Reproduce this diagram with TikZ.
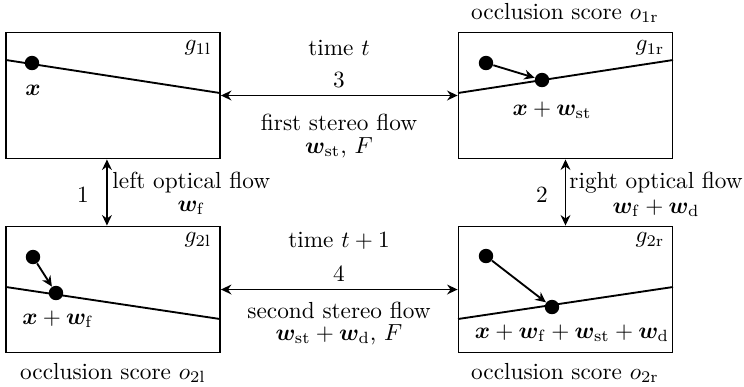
\documentclass[tikz,border=0pt]{standalone}
\usepackage{amsmath,bm}
\usetikzlibrary{arrows.meta}
\begin{document}
\begin{tikzpicture}[x=0.43pt,y=-0.43pt,
  frame/.style={draw, thick, minimum width=92pt, minimum height=54.2pt, inner sep=0pt},
  dot/.style={circle, fill, inner sep=0pt, minimum size=6.2pt},
  conn/.style={thick, {Stealth[length=4.5pt,width=4.2pt]}-{Stealth[length=4.5pt,width=4.2pt]}},
  mv/.style={thick, -{Stealth[length=4.5pt,width=4.2pt]}},
  gline/.style={thick},
  lbl/.style={inner sep=0pt},
  bl/.style={inner sep=0pt, anchor=base}
]
\useasboundingbox (0,0) rectangle (744,386);

% frames
\node[frame] (b1l) at (113,95.5) {};
\node[frame] (b1r) at (565.5,95.5) {};
\node[frame] (b2l) at (113,289.5) {};
\node[frame] (b2r) at (565.5,289.5) {};

% epipolar lines
\draw[gline] (6,60) -- (220,93);
\draw[gline] (458,93) -- (673,60);
\draw[gline] (6,287) -- (220,319);
\draw[gline] (458,319) -- (673,287);

% dots
\node[dot] (p1l) at (32,63) {};
\node[dot] (s1r) at (486,63) {};
\node[dot] (p1r) at (542,80) {};
\node[dot] (s2l) at (33,257) {};
\node[dot] (p2l) at (56,293) {};
\node[dot] (s2r) at (486,256) {};
\node[dot] (p2r) at (552,307) {};
\draw[mv] (s1r) -- (p1r);
\draw[mv] (s2l) -- (p2l);
\draw[mv] (s2r) -- (p2r);

% point labels
\node[lbl] (x1l) at (33,90) {$\bm{x}$};
\node[lbl] (x1r) at (552,110) {$\bm{x}+\bm{w}_{\mathrm{st}}$};
\node[lbl] (x2l) at (58,319) {$\bm{x}+\bm{w}_{\mathrm{f}}$};
\node[lbl] (x2r) at (572,333) {$\bm{x}+\bm{w}_{\mathrm{f}}+\bm{w}_{\mathrm{st}}+\bm{w}_{\mathrm{d}}$};

% frame labels
\node[lbl] (g1l) at (198,48) {$g_{1\mathrm{l}}$};
\node[lbl] (g1r) at (650,48) {$g_{1\mathrm{r}}$};
\node[lbl] (g2l) at (198,240) {$g_{2\mathrm{l}}$};
\node[lbl] (g2r) at (650,240) {$g_{2\mathrm{r}}$};

% occlusion labels
\node[lbl] (o1r) at (565,13) {occlusion score $o_{1\mathrm{r}}$};
\node[lbl] (o2l) at (113,373) {occlusion score $o_{2\mathrm{l}}$};
\node[lbl] (o2r) at (565,373) {occlusion score $o_{2\mathrm{r}}$};

% connectors
\draw[conn] (b1l.east) -- (b1r.west);
\draw[conn] (b2l.east) -- (b2r.west);
\draw[conn] ([xshift=-2.6pt]b1l.south) -- ([xshift=-2.6pt]b2l.north);
\draw[conn] (b1r.south) -- (b2r.north);

% middle labels
\node[bl] (tt) at (339,55) {time $t$};
\node[bl] (n3) at (339,87) {3};
\node[bl] (fs) at (339,130) {first stereo flow};
\node[bl] (fsw) at (339,153) {$\bm{w}_{\mathrm{st}}$, $F$};
\node[bl] (tt1) at (339,247) {time $t+1$};
\node[bl] (n4) at (339,281) {4};
\node[bl] (ss) at (339,318) {second stereo flow};
\node[bl] (ssw) at (339,340) {$\bm{w}_{\mathrm{st}}+\bm{w}_{\mathrm{d}}$, $F$};

% vertical labels
\node[lbl] (n1) at (83,195) {1};
\node[lbl, anchor=west] (lof) at (112,183) {left optical flow};
\node[lbl] (lofw) at (lof.center |- 0,208) {$\bm{w}_{\mathrm{f}}$};
\node[lbl] (n2) at (542,195) {2};
\node[lbl, anchor=west] (rof) at (569,183) {right optical flow};
\node[lbl] (rofw) at (rof.center |- 0,208) {$\bm{w}_{\mathrm{f}}+\bm{w}_{\mathrm{d}}$};
\end{tikzpicture}
\end{document}
